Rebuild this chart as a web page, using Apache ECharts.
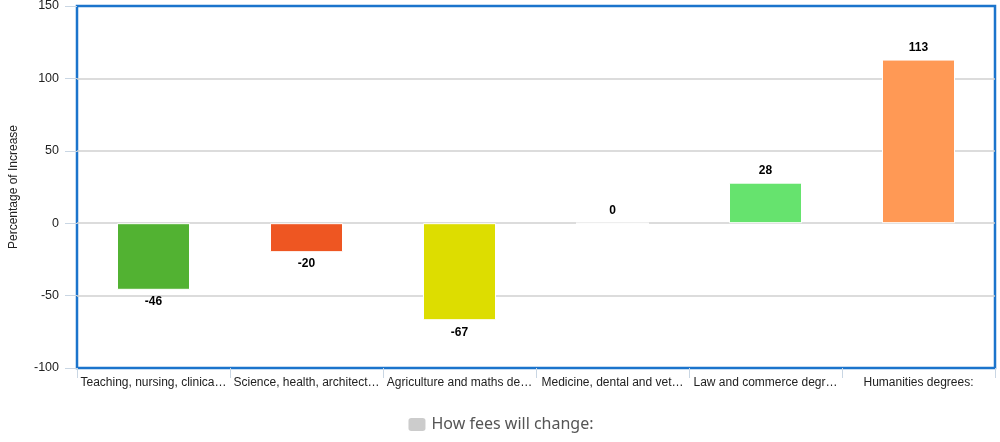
<!DOCTYPE html>
<html>
<head>
<meta charset="utf-8">
<script src="https://cdn.jsdelivr.net/npm/echarts@6/dist/echarts.min.js"></script>
<style>html,body{margin:0;padding:0;background:#fff}#c{width:1000px;height:442px}</style>
</head>
<body>
<div id="c"></div>
<script>
var categories = [
  "Teaching, nursing, clinical degrees:",
  "Science, health, architecture degrees:",
  "Agriculture and maths degrees:",
  "Medicine, dental and veterinary degrees:",
  "Law and commerce degrees:",
  "Humanities degrees:"
];
var values = [-46, -20, -67, 0, 28, 113];
var barColors = ["#52b232", "#ee5622", "#dddd00", "#52b232", "#66e36e", "#ff9955"];
var yTicks = { min: -100, max: 150, interval: 50 };
var seriesName = "How fees will change:";

var chart = echarts.init(document.getElementById('c'), null, { renderer: 'canvas' });
var data = values.map(function (v, i) {
  return {
    value: v,
    itemStyle: { color: barColors[i] },
    label: { position: v < 0 ? 'bottom' : 'top' }
  };
});
chart.setOption({
  animation: false,
  textStyle: { fontFamily: 'Liberation Sans, Arial, sans-serif' },
  grid: {
    left: 77, right: 5, top: 6, bottom: 74,
    outerBoundsMode: 'none', containLabel: false,
    show: true, borderColor: '#1b74cc', borderWidth: 2.5, backgroundColor: 'transparent'
  },
  legend: {
    bottom: 4, left: 'center',
    itemWidth: 19, itemHeight: 15, itemGap: 8,
    textStyle: { fontSize: 16, color: '#555', fontFamily: 'Noto Sans, Open Sans, sans-serif' },
    data: [{ name: seriesName, itemStyle: { color: '#cccccc' } }]
  },
  xAxis: {
    type: 'category',
    position: 'bottom',
    data: categories,
    axisLine: { show: false, onZero: false },
    axisTick: { show: true, length: 10, lineStyle: { color: '#c9d6e3' } },
    axisLabel: {
      interval: 0, margin: 9, fontSize: 12, color: '#222',
      width: 149, overflow: 'truncate', ellipsis: '…'
    }
  },
  yAxis: {
    type: 'value',
    min: yTicks.min, max: yTicks.max, interval: yTicks.interval,
    name: 'Percentage of Increase',
    nameLocation: 'middle', nameGap: 57, nameRotate: 90,
    nameTextStyle: { fontSize: 12, color: '#222' },
    axisLine: { show: false },
    axisTick: { show: true, length: 12, lineStyle: { color: '#c9d6e3' } },
    axisLabel: { fontSize: 12.5, color: '#222', margin: 18 },
    splitLine: { showMinLine: false, showMaxLine: false, lineStyle: { color: '#d0d0d0', width: 1.5 } }
  },
  series: [{
    name: seriesName,
    type: 'bar',
    barWidth: 73,
    itemStyle: { color: '#cccccc', borderColor: '#ffffff', borderWidth: 1 },
    label: { show: true, fontWeight: 'bold', fontSize: 12, color: '#000', distance: 6 },
    data: data
  }]
});
</script>
</body>
</html>
